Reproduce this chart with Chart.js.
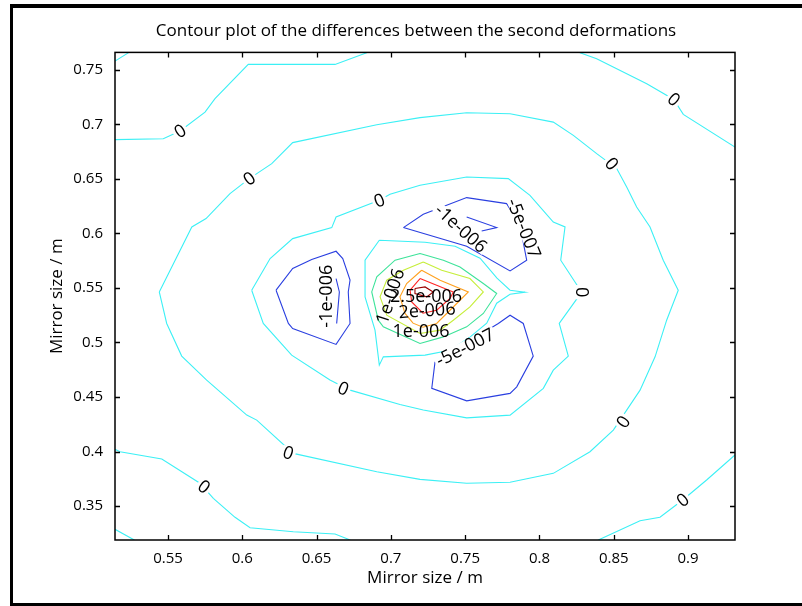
<!DOCTYPE html>
<html>
<head>
<meta charset="utf-8">
<title>Contour plot</title>
<script src="https://cdn.jsdelivr.net/npm/chart.js@4.4.1/dist/chart.umd.min.js"></script>
<style>
  html, body { margin: 0; padding: 0; background: #fff; overflow: hidden; }
  body { width: 802px; height: 606px; position: relative; }
  .bar { position: absolute; background: #000; pointer-events: none; }
  #barLeft { left: 10px; top: 4px; width: 3px; height: 602px; }
  #barTop { left: 10px; top: 4px; width: 792px; height: 4px; }
  #barBottom { left: 10px; top: 603px; width: 792px; height: 3px; }
  #wrap { position: absolute; left: 0; top: 0; width: 802px; height: 606px; }
  #contourChart { display: block; }
</style>
</head>
<body>
<div id="wrap"><canvas id="contourChart" width="802" height="606"></canvas></div>
<div class="bar" id="barLeft"></div>
<div class="bar" id="barTop"></div>
<div class="bar" id="barBottom"></div>
<script>
// Axis ranges and tick labels
const xRange = [0.5143, 0.9316];
const yRange = [0.3189, 0.7659];
const xTicks = [0.55, 0.6, 0.65, 0.7, 0.75, 0.8, 0.85, 0.9];
const yTicks = [0.35, 0.4, 0.45, 0.5, 0.55, 0.6, 0.65, 0.7, 0.75];

// Contour lines (x, y in metres)
// level 0
const zeroCornerTL = [[0.5143,0.7579],[0.5238,0.7659],[0.527,0.768]];
const zeroTopLeft = [[0.5143,0.6859],[0.5468,0.6868],[0.5581,0.6938],[0.5749,0.7112],[0.5816,0.7235],[0.6040,0.7549],[0.6624,0.7549],[0.6837,0.7656],[0.690,0.770]];
const zeroTopRight = [[0.822,0.770],[0.8273,0.7656],[0.8385,0.7601],[0.8722,0.7372],[0.8904,0.7228],[0.8968,0.7091],[0.9316,0.6791]];
const zeroLoopOuter = [[0.5441,0.5463],[0.5660,0.6059],[0.5756,0.6136],[0.5917,0.6365],[0.6047,0.6502],[0.6198,0.6639],[0.6339,0.6832],[0.6905,0.6996],[0.7196,0.7061],[0.7510,0.7106],[0.7802,0.7097],[0.8093,0.7020],[0.8228,0.6898],[0.8385,0.6731],[0.8520,0.6594],[0.8587,0.6425],[0.8654,0.6242],[0.8744,0.6059],[0.8833,0.5754],[0.8934,0.5479],[0.8856,0.5204],[0.8778,0.4868],[0.8677,0.4563],[0.8497,0.4197],[0.8340,0.3998],[0.8093,0.3800],[0.7802,0.3718],[0.7510,0.3709],[0.7196,0.3745],[0.6905,0.3815],[0.6343,0.3983],[0.6097,0.4288],[0.6030,0.4334],[0.5760,0.4655],[0.5592,0.4875],[0.5491,0.5174],[0.5441,0.5463]];
const zeroLoopMiddle = [[0.6063,0.5479],[0.6187,0.5769],[0.6339,0.5952],[0.6602,0.6053],[0.6631,0.6150],[0.6922,0.6303],[0.6994,0.6358],[0.7196,0.6441],[0.7510,0.6517],[0.7790,0.6502],[0.7936,0.6349],[0.8093,0.6104],[0.8172,0.6059],[0.8143,0.5754],[0.8284,0.5461],[0.8133,0.5174],[0.8194,0.4875],[0.8093,0.4746],[0.8026,0.4579],[0.7802,0.4334],[0.7510,0.4309],[0.7218,0.4380],[0.7061,0.4432],[0.6725,0.4563],[0.6590,0.4655],[0.6332,0.4884],[0.6141,0.5174],[0.6063,0.5479]];
const zeroLoopInner = [[0.6922,0.5937],[0.7230,0.5919],[0.7432,0.5882],[0.7600,0.5772],[0.7714,0.5589],[0.7802,0.5479],[0.7903,0.5461],[0.7802,0.5442],[0.7712,0.5360],[0.7645,0.5177],[0.7532,0.5049],[0.7398,0.4929],[0.7230,0.4884],[0.6949,0.4868],[0.6922,0.4792],[0.6893,0.5113],[0.6826,0.5418],[0.6826,0.5754],[0.6922,0.5937]];
const zeroBottomLeft = [[0.5143,0.4020],[0.5177,0.3998],[0.5458,0.3931],[0.5715,0.3709],[0.5805,0.3571],[0.5951,0.3397],[0.6052,0.3302],[0.6343,0.3265],[0.6624,0.3244],[0.6713,0.3196],[0.6759,0.3162]];
const zeroCornerBL = [[0.5143,0.3287],[0.5264,0.3196],[0.5291,0.3171]];
const zeroBottomRight = [[0.8374,0.3171],[0.8407,0.3196],[0.8677,0.3366],[0.8811,0.3397],[0.8964,0.3556],[0.9125,0.3739],[0.9316,0.3968]];
// negative levels
const negLeft = [[0.6227,0.5479],[0.6339,0.5678],[0.6467,0.5760],[0.6631,0.5836],[0.6676,0.5769],[0.6725,0.5571],[0.6713,0.5463],[0.6725,0.5174],[0.6631,0.4982],[0.6339,0.5128],[0.6310,0.5174],[0.6227,0.5479]];
const negLeftTail = [[0.6631,0.5586],[0.6653,0.5463],[0.6635,0.5174]];
const negUpper = [[0.7084,0.6053],[0.7218,0.6175],[0.7510,0.6328],[0.7779,0.6273],[0.7869,0.6074],[0.7914,0.5754],[0.7802,0.5656],[0.7510,0.5882],[0.7084,0.6053]];
const negUpperInner = [[0.7510,0.6150],[0.7712,0.6053],[0.7611,0.6022]];
const negLower = [[0.7297,0.4822],[0.7275,0.4579],[0.7510,0.4465],[0.7802,0.4533],[0.7847,0.4593],[0.7958,0.4875],[0.7891,0.5174],[0.7802,0.5250],[0.7723,0.5174],[0.7297,0.4822]];
// positive levels around the peak
const pos1 = [[0.7196,0.5815],[0.7353,0.5754],[0.7465,0.5692],[0.7622,0.5540],[0.7712,0.5449],[0.7622,0.5266],[0.7510,0.5143],[0.7353,0.5051],[0.7196,0.4991],[0.6949,0.5143],[0.6915,0.5204],[0.6871,0.5463],[0.6905,0.5601],[0.7028,0.5754],[0.7196,0.5815]];
const pos2 = [[0.7218,0.5738],[0.7342,0.5662],[0.7532,0.5586],[0.7622,0.5463],[0.7532,0.5326],[0.7420,0.5204],[0.7331,0.5113],[0.7196,0.5082],[0.6972,0.5250],[0.6927,0.5418],[0.6972,0.5571],[0.7084,0.5662],[0.7218,0.5738]];
const pos3 = [[0.7207,0.5662],[0.7331,0.5571],[0.7521,0.5463],[0.7443,0.5357],[0.7308,0.5174],[0.7216,0.5140],[0.7149,0.5177],[0.7095,0.5266],[0.7061,0.5418],[0.7106,0.5540],[0.7207,0.5662]];
const pos4 = [[0.7196,0.5586],[0.7308,0.5525],[0.7420,0.5463],[0.7398,0.5403],[0.7308,0.5296],[0.7216,0.5268],[0.7140,0.5372],[0.7129,0.5479],[0.7196,0.5586]];
const pos5 = [[0.7162,0.5495],[0.7230,0.5509],[0.7285,0.5463],[0.7241,0.5418],[0.7162,0.5449],[0.7162,0.5495]];

// Contour labels (the last four sit on the crowded peak and get no knock-out box)
const labelText = ['0','0','0','0','0','0','0','0','0','0','0',
  '-1e-006','-1e-006','-5e-007','-5e-007','1e-006','2.5e-006','2e-006','1e-006'];
const labelPos = [[0.5581,0.6938],[0.6047,0.6502],[0.6922,0.6303],[0.8904,0.7228],[0.8486,0.6639],[0.8284,0.5461],
  [0.8564,0.4273],[0.8964,0.3556],[0.6680,0.4579],[0.6310,0.3989],[0.5742,0.3678],
  [0.6563,0.5424],[0.7472,0.6047],[0.7896,0.6047],[0.7499,0.4957],[0.6994,0.5424],[0.7236,0.5424],[0.7243,0.5296],[0.7203,0.5103]];
const labelAngle = [-32,-36,-21,40,50,90,-56,-38,22,18,37,-90,42,68,-27,-72,0,-4,0];
const labelBox = [1,1,1,1,1,1,1,1,1,1,1,1,1,1,1,0,0,0,0];

const BLUE = '#2a3fe0', CYAN = '#3cf0f5', GREEN = '#3ee39a', YELLOW = '#c6ee3a',
      ORANGE = '#ffa11f', RED = '#ff2424', DARKRED = '#9a0000';

const lines = [
  [zeroCornerTL, CYAN], [zeroTopLeft, CYAN], [zeroTopRight, CYAN], [zeroLoopOuter, CYAN],
  [zeroLoopMiddle, CYAN], [zeroLoopInner, CYAN], [zeroBottomLeft, CYAN], [zeroCornerBL, CYAN],
  [zeroBottomRight, CYAN],
  [negLeft, BLUE], [negLeftTail, BLUE], [negUpper, BLUE], [negUpperInner, BLUE], [negLower, BLUE],
  [pos1, GREEN], [pos2, YELLOW], [pos3, ORANGE], [pos4, RED], [pos5, DARKRED]
];

Chart.defaults.font.family = "'Open Sans', sans-serif";
Chart.defaults.color = '#000';

// inward ticks on all four sides, plot box and the contour labels
const boxPlugin = {
  id: 'plotBox',
  afterDatasetsDraw(chart) {
    const { ctx, chartArea: a, scales: { x, y } } = chart;
    ctx.save();
    ctx.font = "18px 'Open Sans', sans-serif";
    ctx.textAlign = 'center';
    ctx.textBaseline = 'middle';
    labelText.forEach((t, i) => {
      const px = x.getPixelForValue(labelPos[i][0]);
      const py = y.getPixelForValue(labelPos[i][1]);
      ctx.save();
      ctx.translate(px, py);
      ctx.rotate(labelAngle[i] * Math.PI / 180);
      if (labelBox[i]) {
        const w = ctx.measureText(t).width;
        ctx.fillStyle = '#fff';
        ctx.fillRect(-w / 2 - 2, -6, w + 4, 12);
      }
      ctx.fillStyle = '#000';
      ctx.fillText(t, 0, 1);
      ctx.restore();
    });

    ctx.strokeStyle = '#000';
    ctx.lineWidth = 1.3;
    ctx.beginPath();
    x.ticks.forEach(t => {
      const px = Math.round(x.getPixelForValue(t.value)) + 0.5;
      ctx.moveTo(px, a.top); ctx.lineTo(px, a.top + 5);
      ctx.moveTo(px, a.bottom); ctx.lineTo(px, a.bottom - 5);
    });
    y.ticks.forEach(t => {
      const py = Math.round(y.getPixelForValue(t.value)) + 0.5;
      ctx.moveTo(a.left, py); ctx.lineTo(a.left + 5, py);
      ctx.moveTo(a.right, py); ctx.lineTo(a.right - 5, py);
    });
    ctx.stroke();
    ctx.lineWidth = 1.5;
    ctx.strokeRect(a.left, a.top, a.right - a.left, a.bottom - a.top);
    ctx.restore();
  }
};

const tickLabel = v => String(+v.toFixed(2));

new Chart(document.getElementById('contourChart'), {
  type: 'scatter',
  data: {
    datasets: lines.map(([pts, col]) => ({
      data: pts.map(p => ({ x: p[0], y: p[1] })),
      showLine: true,
      borderColor: col,
      borderWidth: 1.1,
      pointRadius: 0,
      tension: 0,
      fill: false
    }))
  },
  options: {
    responsive: false,
    animation: false,
    events: [],
    layout: { padding: { left: 30, right: 0, top: 10, bottom: 16 } },
    plugins: {
      legend: { display: false },
      tooltip: { enabled: false },
      title: {
        display: true,
        text: 'Contour plot of the differences between the second deformations',
        font: { size: 17, weight: 'normal' },
        color: '#000',
        padding: { top: 11, bottom: 11 }
      }
    },
    scales: {
      x: {
        type: 'linear',
        min: xRange[0], max: xRange[1],
        grid: { display: false, drawTicks: false },
        border: { display: false },
        afterBuildTicks: s => { s.ticks = xTicks.map(v => ({ value: v })); },
        afterFit: s => { s.height = 50; },
        ticks: { padding: 10, font: { size: 15 }, color: '#000', callback: tickLabel },
        title: { display: true, text: 'Mirror size / m', font: { size: 17 }, color: '#000', padding: { top: 0, bottom: 2 } }
      },
      y: {
        type: 'linear',
        min: yRange[0], max: yRange[1],
        grid: { display: false, drawTicks: false },
        border: { display: false },
        afterBuildTicks: s => { s.ticks = yTicks.map(v => ({ value: v })); },
        afterFit: s => { s.width = 85; },
        ticks: { padding: 12, font: { size: 15 }, color: '#000', callback: tickLabel },
        title: { display: true, text: 'Mirror size / m', font: { size: 17 }, color: '#000', padding: { top: 17, bottom: 0 } }
      },
      y2: {
        position: 'right',
        display: true,
        grid: { display: false, drawTicks: false },
        border: { display: false },
        ticks: { display: false },
        afterFit: s => { s.width = 67; }
      }
    }
  },
  plugins: [boxPlugin]
});
</script>
</body>
</html>
